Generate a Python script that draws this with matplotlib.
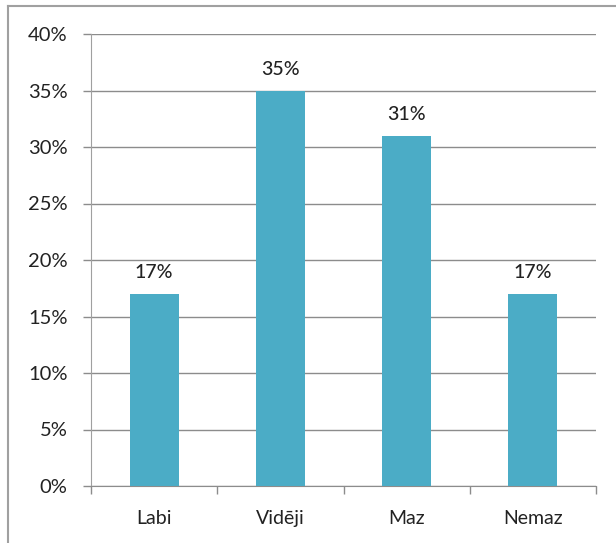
import matplotlib
matplotlib.use("Agg")
import matplotlib.pyplot as plt
from matplotlib.lines import Line2D
import numpy as np

categories = ["Labi", "Vidēji", "Maz", "Nemaz"]
values = [17, 35, 31, 17]
yticks = [0, 5, 10, 15, 20, 25, 30, 35, 40]

plt.rcParams['font.family'] = ['Lato', 'DejaVu Sans']

fig = plt.figure(figsize=(6.16, 5.43), dpi=100)
ax = fig.add_axes([91/616, 1-486/543, (596-91)/616, (486-34)/543])

x = np.arange(len(categories))
ax.bar(x, values, width=0.39, color='#4BACC6', zorder=3)
for xi, v in zip(x, values):
    ax.text(xi, v + 1.1, f"{v}%", ha='center', va='bottom', fontsize=14,
            fontweight='medium', color='#222222')

ax.set_xlim(-0.5, len(categories) - 0.5)
ax.set_ylim(0, 40)
ax.set_yticks(yticks)
ax.set_yticklabels([f"{t}%" for t in yticks], fontsize=14.5, color='#222222')
ax.yaxis.grid(True, color='#8c8c8c', linewidth=1.0, zorder=0)
ax.set_axisbelow(True)

ax.set_xticks(x)
ax.set_xticklabels(categories, fontsize=14, color='#222222')
ax.tick_params(axis='x', length=0, pad=17)
ax.set_xticks(np.arange(-0.5, len(categories), 1.0), minor=True)
ax.tick_params(axis='x', which='minor', length=6, color='#8c8c8c', width=1)
ax.tick_params(axis='y', length=6, color='#8c8c8c', width=1, pad=11)

for s in ['top', 'right']:
    ax.spines[s].set_visible(False)
ax.spines['left'].set_color('#a0a0a0')
ax.spines['bottom'].set_color('#8c8c8c')

# outer chart border
fig.add_artist(Line2D([8/616, 8/616], [0, 1-6/543], color='#a0a0a0', lw=1.5, transform=fig.transFigure))
fig.add_artist(Line2D([8/616, 1], [1-6/543, 1-6/543], color='#a0a0a0', lw=1.5, transform=fig.transFigure))

fig.savefig("out.png", dpi=100, facecolor='white')
